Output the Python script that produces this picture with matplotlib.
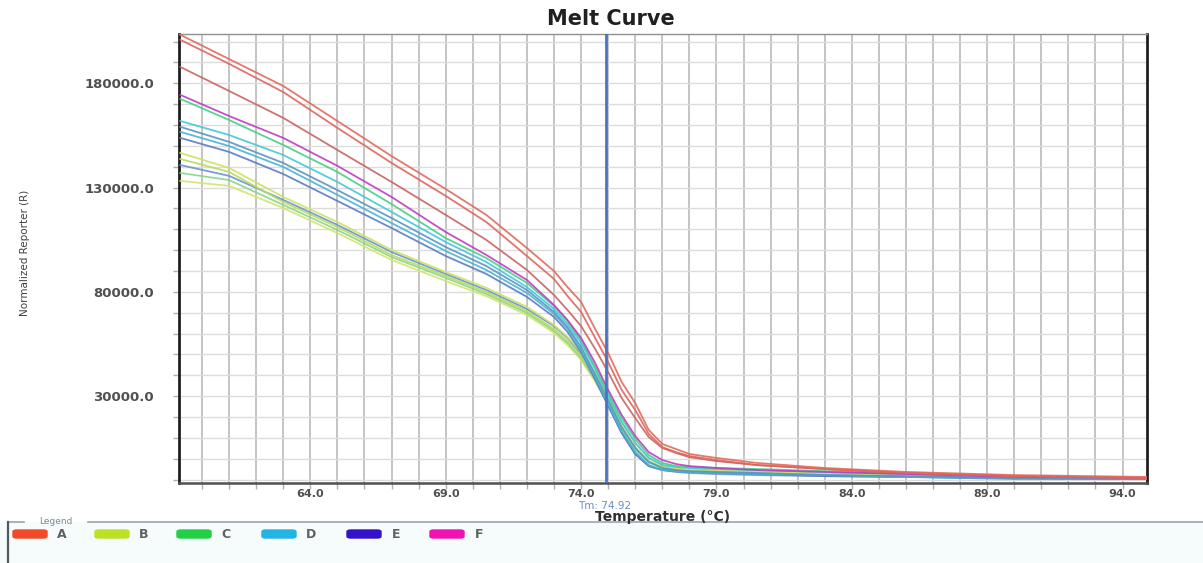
import matplotlib
matplotlib.use("Agg")
import matplotlib.pyplot as plt
from matplotlib.lines import Line2D
from matplotlib.patches import Rectangle, FancyBboxPatch
from matplotlib.ticker import FixedLocator, MultipleLocator

temps = [59.2, 61, 63, 65, 67, 69, 70.5, 72, 73, 73.5, 74, 74.5, 75, 75.5,
         76, 76.5, 77, 77.5, 78, 79, 80.5, 83, 86, 90, 94.9]

# normalized reporter, one list per well
a_1 = [203200, 191600, 178700, 161900, 145100, 129300, 116900, 101000, 90000, 82300, 75200, 62700, 50700,
       36800, 26700, 13800, 7100, 4700, 2300, 400, -2000, -4400, -6300, -7800, -8700]
a_2 = [200800, 189300, 175800, 158600, 141800, 126000, 113500, 97200, 86200, 78000, 70400, 58400, 46400,
       33000, 23400, 11900, 5600, 3200, 1300, -600, -3000, -4900, -6800, -8300, -9200]
a_3 = [187800, 176300, 163400, 148000, 132700, 116900, 104900, 90500, 78500, 71300, 63600, 53100, 41600,
       29100, 19500, 10400, 5200, 2800, 800, -1100, -3000, -4900, -6800, -8300, -9200]
f_1 = [174400, 164300, 153800, 140400, 125500, 108700, 97700, 85700, 73700, 66500, 57900, 46400, 33000,
       21000, 10900, 3200, -600, -2500, -3500, -4400, -5400, -6300, -7300, -8700, -9200]
c_1 = [172500, 162400, 150400, 137500, 122100, 105800, 96200, 84300, 73200, 66000, 56900, 44500, 31500,
       19500, 9500, 1800, -2000, -3500, -3900, -4400, -4900, -5900, -6800, -8300, -9200]
d_1 = [161900, 155200, 145600, 132700, 118300, 103900, 94300, 82300, 71800, 64600, 55500, 43500, 30100,
       17600, 7600, 400, -3000, -3900, -4400, -4900, -5400, -6300, -7300, -8700, -9200]
e_1 = [159100, 151900, 141800, 128800, 115400, 101500, 92400, 80900, 70400, 63200, 53600, 41100, 28200,
       15200, 5200, -1500, -4400, -5400, -5900, -6300, -6800, -7800, -8300, -9200, -9700]
d_2 = [156700, 149900, 139900, 126500, 113000, 99600, 90500, 79500, 69400, 62200, 52100, 39700, 26300,
       13300, 3200, -3000, -5400, -5900, -6300, -6800, -7300, -7800, -8700, -9200, -9700]
e_2 = [153800, 147100, 136500, 123600, 110600, 97200, 88600, 77600, 68000, 60800, 51200, 38700, 25300,
       12400, 2300, -3500, -5400, -5900, -6300, -6800, -7300, -8300, -8700, -9200, -9700]
b_1 = [146600, 139400, 125500, 113500, 100100, 89500, 81900, 72800, 64100, 58400, 51200, 41600, 30100,
       17600, 7600, 400, -3000, -4400, -4900, -5400, -5900, -6800, -7800, -8700, -9200]
b_2 = [143700, 137500, 123100, 111100, 97700, 87600, 79900, 70800, 62200, 56500, 49300, 39700, 28200,
       15700, 5600, -1100, -3900, -4900, -5400, -5900, -6300, -7300, -8300, -9200, -9700]
d_3 = [140800, 135600, 124100, 112100, 99100, 88600, 80900, 71800, 63600, 57900, 50200, 38700, 25800,
       12400, 2300, -3500, -5400, -6300, -6800, -7300, -7800, -8300, -8700, -9700, -9700]
c_2 = [137000, 133600, 121700, 109700, 96700, 86700, 79000, 69900, 61300, 55500, 48300, 38200, 26700,
       14800, 4700, -1500, -4400, -5400, -5900, -6300, -6800, -7300, -8300, -9200, -9700]
b_3 = [133200, 130800, 120200, 108200, 95300, 85200, 78000, 68900, 60300, 54500, 47400, 37300, 26300,
       14300, 4200, -2000, -4400, -5400, -5900, -6300, -6800, -7800, -8300, -9200, -9700]

wells = [
    (b_3, "#d4e46c"), (c_2, "#86d88a"), (d_3, "#6a92d2"), (b_2, "#b8dc5c"),
    (b_1, "#cce264"), (e_2, "#5a7cc4"), (d_2, "#48b4d4"), (e_1, "#5a94c2"),
    (d_1, "#40c8d8"), (c_1, "#44d088"), (f_1, "#c03cc4"), (a_3, "#c86464"),
    (a_2, "#e0645c"), (a_1, "#e06a5c"),
]

legend_names = ["A", "B", "C", "D", "E", "F"]
legend_colors = ["#f04a28", "#bce024", "#22d044", "#22b4e2", "#3412c8", "#f012b2"]

tm_value = 74.92
x_major = [64, 69, 74, 79, 84, 89, 94]
y_major = [30000, 80000, 130000, 180000]

fig = plt.figure(figsize=(12.03, 5.63), dpi=100)
ax = fig.add_axes([0.1488, 0.1421, 0.8046, 0.7975])

for vals, col in wells:
    ax.plot(temps, vals, color=col, lw=1.3, alpha=0.9, zorder=3)

ax.axvline(tm_value, color="#4a74c4", lw=2, zorder=4)

ax.set_xlim(59.15, 94.9)
ax.set_ylim(-11600, 203600)

ax.xaxis.set_major_locator(FixedLocator(x_major))
ax.xaxis.set_minor_locator(MultipleLocator(1))
ax.yaxis.set_major_locator(FixedLocator(y_major))
ax.yaxis.set_minor_locator(MultipleLocator(10000))
ax.set_xticklabels([f"{v:.1f}" for v in x_major])
ax.set_yticklabels([f"{v:.1f}" for v in y_major])

ax.grid(which="both", axis="x", color="#c4c4c4", lw=1.4, zorder=1)
ax.grid(which="both", axis="y", color="#dcdcdc", lw=1.0, zorder=1)

ax.tick_params(axis="both", which="both", color="#b0b0b0", length=4, width=1)
ax.tick_params(axis="x", which="major", labelsize=8, labelcolor="#505050", pad=0)
ax.tick_params(axis="y", which="major", labelsize=9.5, labelcolor="#505050", pad=14)
for lab in ax.get_xticklabels() + ax.get_yticklabels():
    lab.set_fontweight("bold")

for side in ["left", "right"]:
    ax.spines[side].set_color("#202020")
    ax.spines[side].set_linewidth(2)
ax.spines["bottom"].set_color("#505050")
ax.spines["bottom"].set_linewidth(1.8)
ax.spines["top"].set_color("#909090")
ax.spines["top"].set_linewidth(1)

fig.text(0.508, 0.966, "Melt Curve", ha="center", va="center",
         fontsize=15, fontweight="bold", color="#202020")
fig.text(0.551, 1 - 516.5 / 563, "Temperature (\u00b0C)", ha="center", va="center",
         fontsize=10, fontweight="bold", color="#303030")
fig.text(0.503, 1 - 506 / 563, f"Tm: {tm_value:.2f}", ha="center", va="center",
         fontsize=7.5, color="#6a8ccc")
fig.text(0.021, 0.55, "Normalized Reporter (R)", rotation=90, ha="center", va="center",
         fontsize=7.5, color="#404040", family=["Liberation Sans Narrow", "DejaVu Sans"])

# legend strip at the bottom
fig.add_artist(Rectangle((0, 0), 1, 1 - 522 / 563, transform=fig.transFigure,
                         color="#f6fbfc", zorder=0))
fig.add_artist(Line2D([8 / 1203, 24 / 1203], [1 - 522 / 563] * 2, transform=fig.transFigure,
                      color="#9aa6aa", lw=1.2))
fig.add_artist(Line2D([88 / 1203, 1.0], [1 - 522 / 563] * 2, transform=fig.transFigure,
                      color="#9aa6aa", lw=1.2))
fig.add_artist(Line2D([8 / 1203, 8 / 1203], [0, 1 - 522 / 563], transform=fig.transFigure,
                      color="#505a5e", lw=1.6))
fig.text(56 / 1203, 1 - 521 / 563, "Legend", ha="center", va="center",
         fontsize=6.5, color="#7a8a90")

patch_x = [13, 95, 177, 262, 347, 430]
for px, name, col in zip(patch_x, legend_names, legend_colors):
    fig.add_artist(FancyBboxPatch((px / 1203, 1 - 538 / 563), 34 / 1203, 8 / 563,
                                  boxstyle="round,pad=0,rounding_size=0.003",
                                  transform=fig.transFigure, color=col))
    fig.text((px + 49) / 1203, 1 - 534 / 563, name, ha="center", va="center",
             fontsize=9, fontweight="bold", color="#606060")

fig.savefig("out.png", dpi=100)
